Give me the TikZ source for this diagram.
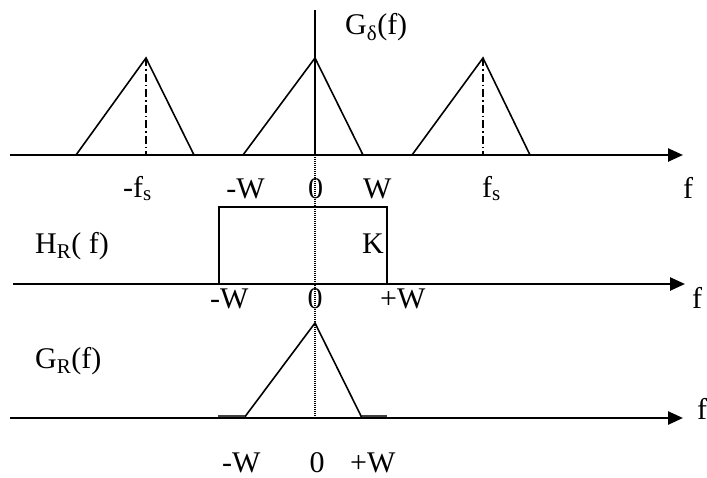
\documentclass[tikz,border=0pt]{standalone}
\usepackage{fontspec}
\setmainfont{Liberation Serif}
\usetikzlibrary{arrows.meta}
\begin{document}
\begin{tikzpicture}[x=1pt,y=-1pt,
  axisline/.style={line width=2.5pt,-{Triangle[length=15pt,width=13pt]}},
  specline/.style={line width=1.6pt,line join=miter},
  dashdotline/.style={line width=1.4pt,dash pattern=on 8pt off 3pt on 1.5pt off 3pt},
  dotline/.style={line width=1.2pt,dash pattern=on 1pt off 1pt},
  barline/.style={line width=2pt,black!75},
  lbl/.style={font=\fontsize{30}{36}\selectfont,inner sep=0pt,text depth=0pt}]
\useasboundingbox (0,0) rectangle (707,477);
% coordinates
\coordinate (a1s) at (10,155);  \coordinate (a1e) at (683,155);
\coordinate (a2s) at (13,284);  \coordinate (a2e) at (685,284);
\coordinate (a3s) at (10,418);  \coordinate (a3e) at (683,418);
\coordinate (vtop) at (315,10); \coordinate (o1) at (315,155); \coordinate (o3) at (315,418);
% top spectrum
\coordinate (l1) at (76,155);  \coordinate (lp) at (146,58);  \coordinate (l2) at (194,155);
\coordinate (c1) at (243,155); \coordinate (cp) at (315,58);  \coordinate (c2) at (363,155);
\coordinate (r1) at (412,155); \coordinate (rp) at (483,58);  \coordinate (r2) at (530,155);
\coordinate (lb) at (146,155); \coordinate (rb) at (483,155);
% filter
\coordinate (h1) at (219,284); \coordinate (h2) at (219,207);
\coordinate (h3) at (387,207); \coordinate (h4) at (387,284);
% bottom
\coordinate (g1) at (244,418); \coordinate (gp) at (315,323); \coordinate (g2) at (362,418);
\coordinate (b1) at (218,415.5); \coordinate (b2) at (245,415.5);
\coordinate (b3) at (362,415.5); \coordinate (b4) at (387,415.5);

\draw[axisline] (a1s) -- (a1e);
\draw[axisline] (a2s) -- (a2e);
\draw[axisline] (a3s) -- (a3e);
\draw[line width=2pt] (vtop) -- (o1);
\draw[dotline] (o1) -- (o3);

\draw[specline] (l1) -- (lp) -- (l2);
\draw[specline] (c1) -- (cp) -- (c2);
\draw[specline] (r1) -- (rp) -- (r2);
\draw[dashdotline] (lp) -- (lb);
\draw[dashdotline] (rp) -- (rb);

\draw[specline] (h1) -- (h2) -- (h3) -- (h4);

\draw[specline] (g1) -- (gp) -- (g2);
\draw[barline] (b1) -- (b2);
\draw[barline] (b3) -- (b4);

% labels top
\node[lbl,anchor=base west] (tG) at (345,34) {G\textsubscript{δ}(f)};
\node[lbl,anchor=base west] (tmfs) at (123,197) {-f\textsubscript{s}};
\node[lbl,anchor=base east] (tmW) at (265,198) {-W};
\node[lbl,anchor=base] (t0) at (315.5,198) {0};
\node[lbl,anchor=base west] (tW) at (363,198) {W};
\node[lbl,anchor=base west] (tfs) at (482,197) {f\textsubscript{s}};
\node[lbl,anchor=base west] (tf) at (683,198) {f};
% labels middle
\node[lbl,anchor=base west] (mH) at (35,253) {H\textsubscript{R}( f)};
\node[lbl,anchor=base east] (mK) at (384,253) {K};
\node[lbl,anchor=base west] (mmW) at (210,308) {-W};
\node[lbl,anchor=base] (m0) at (315,308) {0};
\node[lbl,anchor=base west] (mpW) at (380,308) {+W};
\node[lbl,anchor=base west] (mf) at (692,308) {f};
% labels bottom
\node[lbl,anchor=base west] (bG) at (35,368) {G\textsubscript{R}(f)};
\node[lbl,anchor=base west] (bf) at (697,419) {f};
\node[lbl,anchor=base west] (bmW) at (222,472) {-W};
\node[lbl,anchor=base] (b0) at (317,472) {0};
\node[lbl,anchor=base west] (bpW) at (350,472) {+W};
\end{tikzpicture}
\end{document}
